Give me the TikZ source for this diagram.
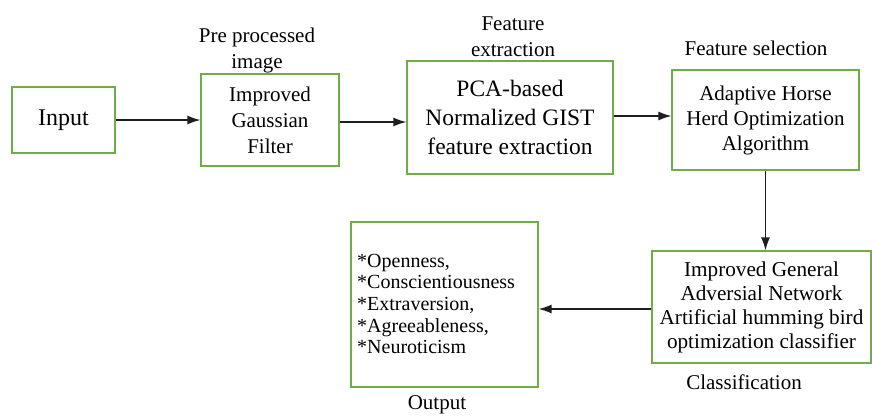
\documentclass[tikz,border=0pt]{standalone}
\usepackage{fontspec}
\setmainfont{Liberation Serif}
\usetikzlibrary{arrows.meta}
\definecolor{boxgreen}{RGB}{112,173,71}
\definecolor{arrgray}{RGB}{30,30,30}
\tikzset{
  stepbox/.style={draw=boxgreen, line width=1.2bp, rectangle, align=center, inner sep=0pt},
  arr/.style={draw=arrgray, line width=1.3bp, -{Latex[length=13bp,width=9bp]}},
  lbl/.style={align=center, inner sep=0pt, font=\fontsize{21bp}{26bp}\selectfont}
}
\begin{document}
\begin{tikzpicture}[x=1bp,y=-1bp]
\useasboundingbox (0,0) rectangle (872,416);
\node[stepbox, minimum width=103bp, minimum height=66bp, font=\fontsize{24bp}{28bp}\selectfont] (in) at (63.5,120) {Input};
\node[stepbox, minimum width=138bp, minimum height=92bp, font=\fontsize{21bp}{26bp}\selectfont] (gf) at (270,120) {Improved\\Gaussian\\Filter};
\node[stepbox, minimum width=206bp, minimum height=113bp, font=\fontsize{23.5bp}{29bp}\selectfont] (pca) at (510,117.5) {PCA-based\\Normalized GIST\\feature extraction};
\node[stepbox, minimum width=187bp, minimum height=100bp, font=\fontsize{21bp}{25bp}\selectfont] (ahho) at (765.5,120) {Adaptive Horse\\Herd Optimization\\Algorithm};
\node[stepbox, minimum width=219bp, minimum height=112bp, font=\fontsize{21.2bp}{24bp}\selectfont] (cls) at (761.5,307) {Improved General\\Adversial Network\\Artificial humming bird\\optimization classifier};
\node[stepbox, minimum width=187bp, minimum height=165bp] (out) at (444.5,304.5) {};
\node[align=left, inner sep=0pt, font=\fontsize{20bp}{21.7bp}\selectfont, anchor=west] (outtxt) at (357,304) {*Openness,\\*Conscientiousness\\*Extraversion,\\*Agreeableness,\\*Neuroticism};
\node[lbl] (l1) at (257,50) {Pre processed\\image};
\node[lbl] (l2) at (513,37) {Feature\\extraction};
\node[lbl] (l3) at (756,48) {Feature selection};
\node[lbl] (l4) at (744,382) {Classification};
\node[lbl] (l5) at (437,405) {Output};
\draw[arr] (in.east) -- (gf.west);
\draw[arr] ([yshift=-2bp]gf.east) -- ([yshift=-2bp]gf.east -| pca.west);
\draw[arr] ([yshift=1.5bp]pca.east) -- ([yshift=1.5bp]pca.east -| ahho.west);
\draw[arr] (ahho.south) -- (ahho.south |- cls.north);
\draw[arr] ([yshift=-2bp]cls.west) -- ([yshift=-2bp]cls.west -| out.east);
\end{tikzpicture}
\end{document}
